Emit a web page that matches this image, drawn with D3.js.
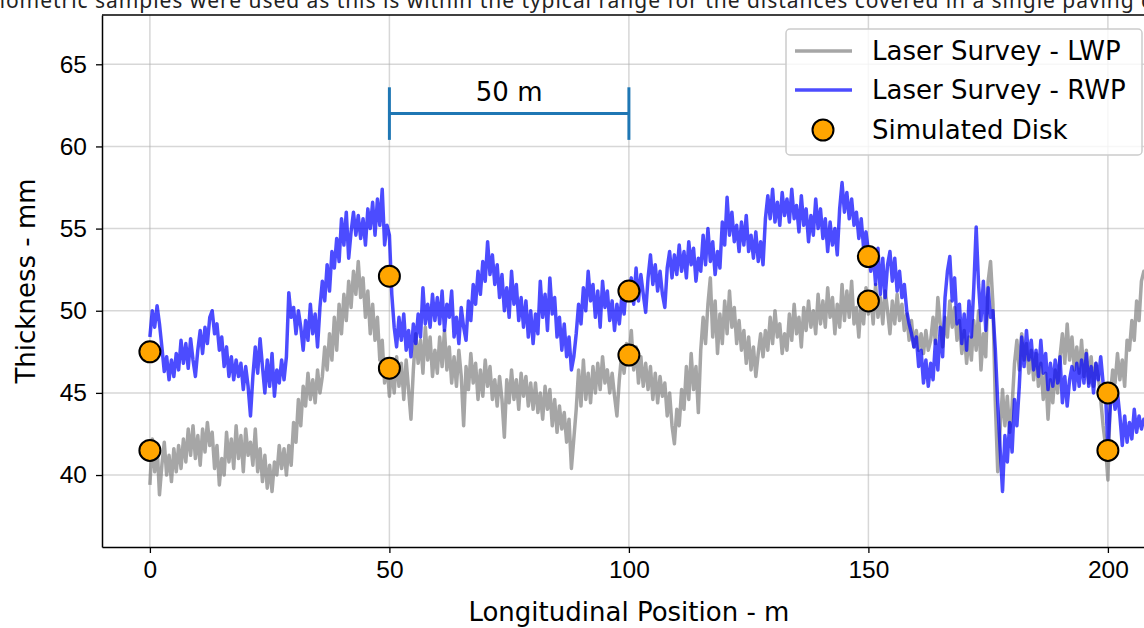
<!DOCTYPE html>
<html>
<head>
<meta charset="utf-8">
<script src="https://cdn.jsdelivr.net/npm/d3@7"></script>
<style>
  body { margin: 0; background: #fff; }
  svg { display: block; font-family: "DejaVu Sans", sans-serif; }
</style>
</head>
<body>
<div id="chart"></div>
<script>
// survey samples every 0.5 m starting at 0 m
var sampleStart = 0, sampleStep = 0.5;

var lwpThickness = [
  39.4, 42.2, 40.2, 41.8, 38.8, 40.6, 42.0, 40.0, 41.2, 39.6, 41.6, 40.2, 41.8, 40.4, 42.2, 40.8, 42.8, 41.2, 43.0, 41.0,
  42.4, 40.6, 42.8, 41.4, 43.2, 41.8, 42.6, 40.4, 41.8, 39.4, 41.0, 40.0, 42.6, 40.8, 42.2, 40.4, 43.0, 41.0, 42.4, 40.2,
  42.8, 41.2, 42.0, 40.6, 42.8, 40.2, 41.6, 39.6, 41.2, 39.2, 40.6, 39.0, 40.8, 40.0, 41.8, 40.4, 41.6, 40.0, 41.8, 40.6,
  43.2, 42.0, 44.6, 43.0, 45.4, 44.2, 46.2, 44.6, 45.8, 44.4, 46.4, 45.0, 46.0, 47.8, 46.4, 48.6, 47.0, 49.6, 47.6, 50.4,
  48.6, 51.0, 49.4, 51.8, 50.2, 52.4, 51.0, 53.0, 50.8, 52.0, 49.6, 51.2, 48.6, 50.4, 48.2, 49.6, 47.0, 48.2, 45.6, 46.8,
  44.8, 46.6, 45.0, 47.2, 45.4, 46.8, 44.6, 47.0, 45.2, 43.4, 46.4, 48.6, 46.8, 48.2, 46.2, 49.0, 47.0, 48.4, 46.0, 47.6,
  46.2, 48.4, 46.6, 48.8, 46.4, 47.8, 45.6, 47.2, 45.4, 47.6, 46.0, 43.0, 46.6, 45.2, 47.4, 45.6, 46.8, 44.6, 46.4, 44.8,
  47.0, 45.4, 46.6, 44.6, 45.8, 44.2, 46.0, 44.6, 42.3, 45.8, 44.4, 46.4, 44.6, 45.8, 44.0, 46.2, 44.8, 46.0, 44.2, 45.6,
  44.0, 45.6, 43.8, 45.0, 43.4, 45.4, 44.0, 45.2, 43.0, 44.6, 42.6, 44.2, 42.8, 43.8, 42.0, 43.4, 40.4, 42.2, 44.0, 46.4,
  44.2, 47.0, 44.6, 46.2, 44.4, 46.6, 45.0, 46.8, 45.2, 47.2, 45.6, 46.4, 45.0, 46.2, 44.8, 43.6, 45.8, 47.4, 46.2, 48.0,
  47.0, 48.8, 46.4, 47.8, 45.6, 47.2, 45.4, 46.8, 45.2, 46.6, 44.6, 46.2, 44.4, 46.0, 44.8, 45.6, 43.6, 45.0, 43.0, 41.9,
  44.0, 43.0, 45.2, 44.0, 46.6, 44.6, 47.4, 45.2, 46.6, 43.8, 47.6, 49.6, 48.0, 50.4, 52.0, 48.4, 50.6, 47.4, 49.8, 48.0,
  50.6, 48.6, 51.2, 49.0, 50.2, 48.0, 49.4, 47.6, 48.8, 46.8, 48.4, 46.4, 47.8, 46.0, 47.4, 48.6, 47.2, 48.8, 47.6, 49.6,
  48.0, 50.0, 48.4, 49.2, 47.4, 48.6, 47.6, 49.8, 48.2, 50.4, 48.6, 49.6, 47.8, 50.2, 48.8, 50.6, 49.0, 50.0, 48.6, 51.0,
  49.2, 50.6, 49.0, 51.4, 49.6, 50.8, 48.6, 50.4, 49.0, 51.6, 49.4, 51.2, 49.6, 51.8, 49.2, 50.2, 48.4, 50.6, 49.2, 51.4,
  49.8, 51.0, 49.2, 51.6, 49.6, 50.8, 49.2, 51.2, 50.0, 48.6, 50.6, 49.2, 51.0, 49.4, 50.4, 48.8, 49.8, 48.2, 49.4, 47.8,
  48.8, 47.6, 48.6, 47.4, 48.8, 47.6, 48.2, 49.6, 48.0, 50.8, 49.2, 47.8, 49.6, 48.4, 50.6, 49.0, 50.2, 48.2, 49.4, 47.4,
  48.8, 46.8, 48.4, 47.0, 49.4, 47.6, 50.0, 46.4, 48.6, 47.2, 51.8, 53.0, 50.4, 44.4, 40.2, 42.8, 45.2, 43.0, 44.8, 42.6,
  44.2, 46.8, 48.2, 46.4, 48.6, 47.0, 48.0, 46.2, 47.6, 45.8, 47.4, 45.4, 46.8, 44.6, 46.2, 43.4, 45.8, 44.4, 46.4, 45.0,
  47.2, 48.6, 46.8, 49.2, 47.0, 48.4, 46.4, 47.8, 46.2, 48.2, 46.0, 47.6, 45.6, 47.2, 45.4, 46.8, 46.0, 44.6, 43.0, 41.8,
  39.7, 44.8, 46.4, 45.6, 47.4, 45.8, 47.0, 45.4, 48.2, 47.6, 49.4, 48.2, 50.6, 49.4, 51.8, 52.4, 52.0
];

var rwpThickness = [
  48.4, 50.0, 49.0, 50.3, 49.2, 47.8, 46.3, 47.2, 45.8, 47.0, 46.0, 47.4, 46.4, 48.2, 46.8, 48.0, 46.5, 48.3, 47.0, 46.0,
  47.6, 48.8, 47.4, 49.0, 48.0, 49.6, 50.0, 48.6, 49.2, 47.6, 48.4, 46.6, 47.8, 46.0, 47.2, 45.8, 47.0, 46.0, 46.8, 45.2,
  46.6, 45.4, 43.6, 46.0, 47.8, 46.2, 48.3, 46.6, 45.0, 47.0, 45.4, 47.4, 44.8, 46.4, 45.6, 47.0, 45.8, 47.2, 51.1, 49.6,
  50.2, 48.6, 50.0, 49.0, 47.6, 49.4, 48.2, 50.4, 48.6, 49.8, 47.8, 50.2, 51.8, 50.6, 52.8, 51.2, 53.6, 52.6, 54.4, 53.0,
  55.6, 54.0, 56.0, 53.2, 54.8, 56.0, 54.6, 55.8, 54.4, 55.6, 54.0, 56.2, 55.0, 56.6, 54.6, 56.8, 55.2, 57.4, 54.0, 55.2,
  54.6, 51.0, 49.0, 47.8, 49.6, 48.2, 49.8, 47.6, 48.8, 47.2, 49.2, 48.0, 49.8, 48.4, 51.4, 49.2, 50.4, 49.0, 51.0, 49.4,
  50.8, 49.2, 51.2, 48.8, 50.4, 49.6, 51.2, 48.4, 49.6, 48.0, 50.2, 49.0, 48.2, 50.6, 49.4, 51.6, 50.4, 52.4, 51.0, 53.0,
  51.8, 54.2, 52.2, 53.4, 51.6, 52.8, 50.8, 52.2, 50.0, 51.4, 49.6, 52.4, 50.4, 51.6, 49.4, 50.8, 49.0, 50.6, 48.4, 50.0,
  48.0, 49.8, 48.6, 51.8, 49.6, 51.0, 48.8, 52.0, 49.8, 50.8, 48.4, 49.6, 47.6, 49.2, 47.2, 48.4, 46.4, 47.2, 48.6, 50.4,
  49.2, 51.4, 50.0, 52.4, 50.6, 51.6, 49.6, 51.2, 49.0, 51.8, 50.2, 51.2, 49.4, 50.6, 48.8, 50.4, 49.2, 50.8, 49.8, 51.6,
  51.0, 52.0, 50.4, 52.6, 50.6, 52.2, 51.0, 49.9, 52.0, 53.4, 51.6, 52.8, 51.2, 52.4, 51.0, 50.2, 52.6, 53.6, 52.0, 53.4,
  52.2, 54.0, 52.4, 53.6, 52.0, 54.2, 52.8, 53.8, 51.8, 53.2, 52.4, 54.6, 52.8, 55.0, 53.0, 54.2, 52.2, 53.6, 52.6, 55.4,
  54.0, 56.9, 54.6, 56.0, 54.2, 55.2, 53.6, 55.4, 54.0, 55.8, 53.6, 54.6, 53.2, 54.8, 53.0, 54.2, 52.8, 55.6, 57.0, 55.6,
  57.4, 55.4, 56.6, 55.2, 57.2, 55.8, 56.8, 55.4, 57.4, 55.6, 56.4, 54.8, 57.0, 55.2, 56.2, 54.2, 55.8, 54.6, 56.8, 55.0,
  56.2, 54.4, 55.6, 53.6, 55.4, 54.0, 55.0, 53.4, 56.2, 57.8, 56.0, 57.2, 55.6, 56.8, 55.2, 56.0, 54.4, 55.6, 53.8, 54.8,
  53.6, 52.4, 53.6, 51.6, 53.8, 51.0, 53.2, 50.8, 52.8, 53.6, 51.8, 53.2, 51.2, 52.4, 50.8, 51.6, 50.0, 49.2, 48.6, 47.8,
  48.4, 46.6, 47.6, 45.6, 47.0, 45.4, 46.8, 45.8, 48.2, 46.4, 49.0, 47.2, 50.8, 52.4, 53.3, 50.6, 52.0, 49.2, 50.4, 48.0,
  49.8, 47.6, 50.6, 48.4, 51.4, 55.1, 51.6, 49.4, 51.8, 48.8, 51.4, 49.6, 50.0, 47.6, 44.4, 41.6, 39.0, 42.4, 40.8, 43.2,
  41.4, 44.6, 43.0, 45.4, 48.4, 46.6, 48.8, 47.0, 48.2, 46.4, 47.6, 46.0, 48.2, 46.2, 47.4, 45.2, 46.8, 45.4, 47.0, 45.6,
  47.2, 44.4, 46.0, 44.2, 45.8, 46.6, 45.2, 46.8, 45.4, 47.0, 45.6, 47.4, 45.4, 46.6, 45.0, 46.8, 45.8, 47.2, 45.6, 45.0,
  41.6, 44.2, 45.2, 44.0, 45.0, 43.6, 41.8, 43.6, 42.0, 43.2, 42.2, 44.0, 42.6, 43.6, 42.8, 43.4, 43.0
];

// simulated disk positions (m) and thickness (mm)
var diskPos = [0, 0, 50, 50, 100, 100, 150, 150, 200, 200];
var diskThickness = [47.5, 41.5, 52.1, 46.5, 51.2, 47.3, 53.3, 50.6, 45.0, 41.5];

var xTicks = [0, 50, 100, 150, 200];
var yTicks = [40, 45, 50, 55, 60, 65];

var legendLabels = ["Laser Survey - LWP", "Laser Survey - RWP", "Simulated Disk"];

var width = 1144, height = 628;
var margin = {top: 15, left: 102, bottom: 81};
var plotH = height - margin.top - margin.bottom;
var plotR = margin.left + 220 * 4.79;   // right spine sits just past the window

var svg = d3.select("#chart").append("svg")
    .attr("width", width)
    .attr("height", height);

var x = d3.scaleLinear().domain([-10, 210]).range([margin.left, plotR]);
var y = d3.scaleLinear().domain([35.62, 68.0]).range([height - margin.bottom, margin.top]);

// caption text cut off above the figure
svg.append("text")
    .attr("x", -8).attr("y", 8)
    .attr("textLength", 1162).attr("lengthAdjust", "spacing")
    .style("font-family", "'Noto Sans', sans-serif")
    .style("font-size", "21px")
    .attr("fill", "#222")
    .text("nometric samples were used as this is within the typical range for the distances covered in a single paving d");

svg.append("clipPath").attr("id", "plotclip")
  .append("rect")
    .attr("x", margin.left).attr("y", margin.top)
    .attr("width", plotR - margin.left).attr("height", plotH);

// grid
var grid = svg.append("g");
grid.selectAll(".gx").data(xTicks).enter().append("line")
    .attr("x1", function(d) { return x(d); }).attr("x2", function(d) { return x(d); })
    .attr("y1", margin.top).attr("y2", height - margin.bottom)
    .attr("stroke", "#b0b0b0").attr("stroke-opacity", 0.5).attr("stroke-width", 1.5);
grid.selectAll(".gy").data(yTicks).enter().append("line")
    .attr("x1", margin.left).attr("x2", plotR)
    .attr("y1", function(d) { return y(d); }).attr("y2", function(d) { return y(d); })
    .attr("stroke", "#b0b0b0").attr("stroke-opacity", 0.5).attr("stroke-width", 1.5);

var line = d3.line()
    .x(function(d, i) { return x(sampleStart + i * sampleStep); })
    .y(function(d) { return y(d); });

var plot = svg.append("g").attr("clip-path", "url(#plotclip)");

plot.append("path")
    .datum(lwpThickness)
    .attr("d", line)
    .attr("fill", "none")
    .attr("stroke", "gray").attr("stroke-opacity", 0.7)
    .attr("stroke-width", 3.5).attr("stroke-linejoin", "round");

plot.append("path")
    .datum(rwpThickness)
    .attr("d", line)
    .attr("fill", "none")
    .attr("stroke", "blue").attr("stroke-opacity", 0.7)
    .attr("stroke-width", 3.5).attr("stroke-linejoin", "round");

plot.selectAll(".disk").data(diskPos).enter().append("circle")
    .attr("cx", function(d) { return x(d); })
    .attr("cy", function(d, i) { return y(diskThickness[i]); })
    .attr("r", 10.5)
    .attr("fill", "orange")
    .attr("stroke", "black").attr("stroke-width", 2);

// 50 m scale bar
var bar = svg.append("g").attr("stroke", "#1f77b4").attr("stroke-width", 3);
bar.append("line").attr("x1", x(50)).attr("x2", x(100)).attr("y1", y(62)).attr("y2", y(62));
bar.append("line").attr("x1", x(50)).attr("x2", x(50)).attr("y1", y(63.6)).attr("y2", y(60.4));
bar.append("line").attr("x1", x(100)).attr("x2", x(100)).attr("y1", y(63.6)).attr("y2", y(60.4));
svg.append("text")
    .attr("x", x(75)).attr("y", y(62) - 13)
    .attr("text-anchor", "middle")
    .style("font-size", "26px")
    .text("50 m");

// axes
svg.append("g")
    .attr("transform", "translate(0," + (height - margin.bottom) + ")")
    .call(d3.axisBottom(x).tickValues(xTicks).tickSize(6).tickSizeOuter(0).tickPadding(8))
    .call(function(g) {
        g.select(".domain").attr("stroke-width", 1.5);
        g.selectAll(".tick line").attr("stroke-width", 1.3);
        g.selectAll(".tick text").style("font-size", "24.5px").attr("font-family", null);
    });

svg.append("g")
    .attr("transform", "translate(" + margin.left + ",0)")
    .call(d3.axisLeft(y).tickValues(yTicks).tickSize(6).tickSizeOuter(0).tickPadding(9))
    .call(function(g) {
        g.select(".domain").attr("stroke-width", 1.5);
        g.selectAll(".tick line").attr("stroke-width", 1.3);
        g.selectAll(".tick text").style("font-size", "24.5px").attr("font-family", null);
    });

// top spine
svg.append("line")
    .attr("x1", margin.left).attr("x2", plotR)
    .attr("y1", margin.top).attr("y2", margin.top)
    .attr("stroke", "black").attr("stroke-width", 1.5);

svg.append("text")
    .attr("x", (margin.left + plotR) / 2).attr("y", 621)
    .attr("text-anchor", "middle")
    .style("font-size", "26px")
    .text("Longitudinal Position - m");

svg.append("text")
    .attr("transform", "translate(35," + (margin.top + plotH / 2) + ") rotate(-90)")
    .attr("text-anchor", "middle")
    .style("font-size", "26px")
    .text("Thickness - mm");

// legend
var legend = svg.append("g").attr("transform", "translate(786,29)");
legend.append("rect")
    .attr("width", 356).attr("height", 126).attr("rx", 4)
    .attr("fill", "white").attr("fill-opacity", 0.8)
    .attr("stroke", "#cccccc").attr("stroke-width", 1.5);

var legendRows = [22, 61, 101];
legend.append("line").attr("x1", 9).attr("x2", 66).attr("y1", legendRows[0]).attr("y2", legendRows[0])
    .attr("stroke", "gray").attr("stroke-opacity", 0.7).attr("stroke-width", 3.5);
legend.append("line").attr("x1", 9).attr("x2", 66).attr("y1", legendRows[1]).attr("y2", legendRows[1])
    .attr("stroke", "blue").attr("stroke-opacity", 0.7).attr("stroke-width", 3.5);
legend.append("circle").attr("cx", 37).attr("cy", legendRows[2]).attr("r", 10.5)
    .attr("fill", "orange").attr("stroke", "black").attr("stroke-width", 2);

legend.selectAll(".lt").data(legendLabels).enter().append("text")
    .attr("x", 86)
    .attr("y", function(d, i) { return legendRows[i]; })
    .attr("dy", "0.36em")
    .style("font-size", "26px")
    .text(function(d) { return d; });
</script>
</body>
</html>
